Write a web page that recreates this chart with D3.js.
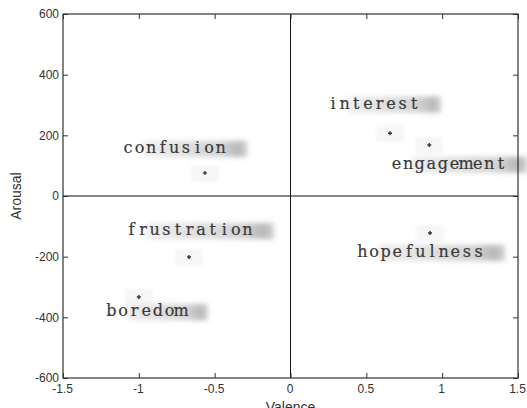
<!DOCTYPE html>
<html>
<head>
<meta charset="utf-8">
<script src="https://cdn.jsdelivr.net/npm/d3@7"></script>
<style>
  html, body { margin: 0; padding: 0; background: #fff; }
  svg { display: block; }
</style>
</head>
<body>
<svg id="chart" width="527" height="408"></svg>
<script>
// ---- data ----
const emotions   = ["confusion", "interest", "engagement", "frustration", "boredom", "hopefulness"];
const valence    = [-0.564, 0.656, 0.915, -0.669, -1.0, 0.92];
const arousal    = [76, 207, 168, -201, -333, -122];
// label anchor (text start, text centre) in data units
const labelX     = [-1.104, 0.249, 0.667, -1.08, -1.212, 0.443];
const labelY     = [157, 303, 105, -114, -381, -186];
const xTicks     = [-1.5, -1, -0.5, 0, 0.5, 1, 1.5];
const yTicks     = [-600, -400, -200, 0, 200, 400, 600];
const xTickLabels = ["-1.5", "-1", "-0.5", "0", "0.5", "1", "1.5"];
const yTickLabels = ["-600", "-400", "-200", "0", "200", "400", "600"];

(function () {
const svg = d3.select("#chart");
const pL = 63, pR = 518, pT = 14, pB = 378;

const x = d3.scaleLinear().domain([-1.5, 1.5]).range([pL, pR]);
const y = d3.scaleLinear().domain([-600, 600]).range([pB, pT]);

// filters/gradients
const defs = svg.append("defs");
const f = defs.append("filter").attr("id", "blur").attr("x", "-30%").attr("y", "-80%").attr("width", "160%").attr("height", "260%");
f.append("feGaussianBlur").attr("stdDeviation", 2.8);
const g = defs.append("linearGradient").attr("id", "shade").attr("x1", "0").attr("x2", "1");
g.append("stop").attr("offset", "0%").attr("stop-color", "#eeeeee");
g.append("stop").attr("offset", "75%").attr("stop-color", "#d2d2d2");
g.append("stop").attr("offset", "92%").attr("stop-color", "#b8b8b8");
g.append("stop").attr("offset", "100%").attr("stop-color", "#d6d6d6");
const f2 = defs.append("filter").attr("id", "blur2");
f2.append("feGaussianBlur").attr("stdDeviation", 1.5);

// faint boxes around points (jpeg-like halo)
svg.append("g").selectAll("rect").data(emotions).join("rect")
  .attr("x", (d, i) => x(valence[i]) - 14)
  .attr("y", (d, i) => y(arousal[i]) - 8)
  .attr("width", 28).attr("height", 17)
  .attr("fill", "#f7f7f7")
  .attr("filter", "url(#blur2)");

// label shadows + labels (typewriter style: fixed pitch cells, serif glyphs)
const fontSize = 16, pitch = 11.6, half = 4.8;
const lg = svg.append("g");
emotions.forEach((name, i) => {
  const tx = x(labelX[i]), ty = y(labelY[i]);
  const chars = Array.from(name);
  const w = (chars.length - 1) * pitch + 2 * half;
  lg.append("rect")
    .attr("x", tx + 20).attr("y", ty - 7.5)
    .attr("width", w + 2).attr("height", 16)
    .attr("fill", "url(#shade)")
    .attr("filter", "url(#blur)");
  lg.append("text")
    .attr("x", chars.map((c, k) => (tx + half + k * pitch).toFixed(2)).join(" "))
    .attr("y", ty + 4.5)
    .attr("text-anchor", "middle")
    .attr("font-family", "'DejaVu Serif', 'Liberation Serif', serif")
    .attr("font-size", fontSize)
    .attr("fill", "#3a3a3a")
    .attr("stroke", "#3a3a3a").attr("stroke-width", 0.2)
    .text(name);
});

// zero lines
svg.append("line").attr("x1", pL).attr("x2", pR).attr("y1", y(0)).attr("y2", y(0))
  .attr("stroke", "#111").attr("stroke-width", 1);
svg.append("line").attr("x1", x(0)).attr("x2", x(0)).attr("y1", pT).attr("y2", pB)
  .attr("stroke", "#111").attr("stroke-width", 1);

// axes (inward ticks)
const tl = 5;
const axB = d3.axisBottom(x).tickValues(xTicks).tickSize(tl).tickFormat((d, i) => xTickLabels[i]);
const axT = d3.axisTop(x).tickValues(xTicks).tickSize(tl).tickFormat("");
const axL = d3.axisLeft(y).tickValues(yTicks).tickSize(tl).tickFormat((d, i) => yTickLabels[i]);
const axR = d3.axisRight(y).tickValues(yTicks).tickSize(tl).tickFormat("");

function styleAxis(sel) {
  sel.select(".domain").remove();
  sel.selectAll(".tick line").attr("stroke", "#333");
  sel.selectAll("text").attr("font-family", "'Liberation Sans', Arial, sans-serif")
    .attr("font-size", 12).attr("fill", "#333");
}
const gb = svg.append("g").attr("transform", `translate(0,${pB})`).call(axB).call(styleAxis);
gb.selectAll(".tick line").attr("y2", -tl);
gb.selectAll(".tick text").attr("y", 6).attr("dy", "0.71em").attr("dx", -1);
const gt = svg.append("g").attr("transform", `translate(0,${pT})`).call(axT).call(styleAxis);
gt.selectAll(".tick line").attr("y2", tl);
const gl = svg.append("g").attr("transform", `translate(${pL},0)`).call(axL).call(styleAxis);
gl.selectAll(".tick line").attr("x2", tl);
gl.selectAll(".tick text").attr("x", -4);
const gr = svg.append("g").attr("transform", `translate(${pR},0)`).call(axR).call(styleAxis);
gr.selectAll(".tick line").attr("x2", -tl);

// box
svg.append("rect").attr("x", pL).attr("y", pT).attr("width", pR - pL).attr("height", pB - pT)
  .attr("fill", "none").attr("stroke", "#333").attr("stroke-width", 1.2);

// points
svg.append("g").selectAll("path").data(emotions).join("path")
  .attr("transform", (d, i) => `translate(${x(valence[i])},${y(arousal[i])})`)
  .attr("d", d3.symbol().type(d3.symbolCross).size(9))
  .attr("fill", "#333");

// axis titles
svg.append("text").attr("transform", `translate(16,${y(0)}) rotate(-90)`)
  .attr("text-anchor", "middle").attr("dominant-baseline", "central")
  .attr("font-family", "'Liberation Sans', Arial, sans-serif").attr("font-size", 14).attr("fill", "#333")
  .text("Arousal");
svg.append("text").attr("x", x(0)).attr("y", 412)
  .attr("text-anchor", "middle")
  .attr("font-family", "'Liberation Sans', Arial, sans-serif").attr("font-size", 14).attr("fill", "#333")
  .text("Valence");
})();
</script>
</body>
</html>
